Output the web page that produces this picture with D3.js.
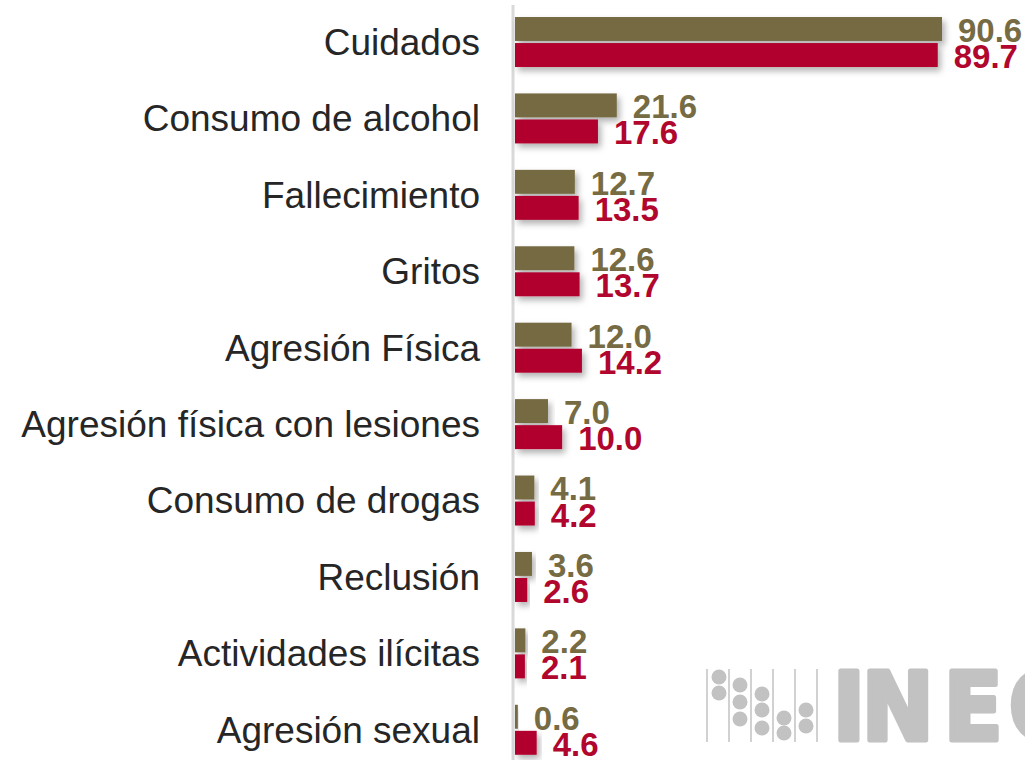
<!DOCTYPE html>
<html>
<head>
<meta charset="utf-8">
<script src="https://cdn.jsdelivr.net/npm/d3@7/dist/d3.min.js"></script>
<style>
  body { margin: 0; background: #fff; }
  svg { display: block; }
</style>
</head>
<body>
<script>
const categories = ['Cuidados', 'Consumo de alcohol', 'Fallecimiento', 'Gritos', 'Agresión Física',
  'Agresión física con lesiones', 'Consumo de drogas', 'Reclusión', 'Actividades ilícitas', 'Agresión sexual']
const seriesNames = ['olive', 'red']
const oliveValues = [90.6, 21.6, 12.7, 12.6, 12.0, 7.0, 4.1, 3.6, 2.2, 0.6]
const redValues = [89.7, 17.6, 13.5, 13.7, 14.2, 10.0, 4.2, 2.6, 2.1, 4.6]
const colors = ['#766b43', '#b1062d']

const w = 1025
const h = 760

const svg = d3.select('body').append('svg')
  .attr('width', w)
  .attr('height', h)

// soft shadow under bars
const defs = svg.append('defs')
const f = defs.append('filter').attr('id', 'shadow')
  .attr('x', '-10%').attr('y', '-30%').attr('width', '130%').attr('height', '180%')
f.append('feDropShadow')
  .attr('dx', 3).attr('dy', 4).attr('stdDeviation', 3)
  .attr('flood-color', '#000').attr('flood-opacity', 0.3)

const x = d3.scaleLinear().domain([0, 90.6]).range([515, 942])
const y = d3.scaleBand().domain(categories).range([3.8, 768])
const ySub = d3.scaleBand().domain(seriesNames).range([0, 50]).paddingInner(0.08)

// INEGI watermark (decoration)
const logo = svg.append('g').attr('fill', '#c2c2c2').attr('stroke', '#c2c2c2')
const lineXs = [707, 729, 751, 773, 795, 817]
lineXs.forEach(lx => {
  logo.append('line').attr('x1', lx).attr('x2', lx).attr('y1', 669).attr('y2', 742).attr('stroke-width', 1.5)
})
const dots = [[719, 677], [719, 693], [740, 685], [740, 702], [740, 719], [762, 694], [762, 710], [762, 728],
  [784, 718], [784, 733], [806, 710], [806, 726]]
dots.forEach(d => {
  logo.append('circle').attr('cx', d[0]).attr('cy', d[1]).attr('r', 7.5).attr('stroke', 'none')
})
logo.append('text')
  .attr('x', '833 862 944 1009 1090')
  .attr('y', 739.5)
  .attr('stroke-width', 5)
  .attr('stroke-linejoin', 'round')
  .attr('font-family', '"DejaVu Sans Condensed", "DejaVu Sans"')
  .attr('font-weight', 'bold')
  .attr('font-size', 95)
  .text('INEGI')

// axis line
svg.append('line')
  .attr('x1', 513).attr('x2', 513)
  .attr('y1', 5).attr('y2', h)
  .attr('stroke', '#d9d9d9')
  .attr('stroke-width', 3)

const rows = categories.map((c, i) => ({ cat: c, vals: [oliveValues[i], redValues[i]] }))

const g = svg.selectAll('g.row')
  .data(rows)
  .enter().append('g')
  .attr('class', 'row')
  .attr('transform', d => 'translate(0,' + (y(d.cat) + y.bandwidth() / 2 - 25) + ')')

g.selectAll('rect')
  .data(d => d.vals.map((v, j) => ({ v, s: seriesNames[j], c: colors[j] })))
  .enter().append('rect')
  .attr('x', x(0))
  .attr('y', d => ySub(d.s))
  .attr('width', d => Math.max(2, x(d.v) - x(0)))
  .attr('height', ySub.bandwidth())
  .attr('fill', d => d.c)
  .attr('filter', 'url(#shadow)')

g.selectAll('text.val')
  .data(d => d.vals.map((v, j) => ({ v, s: seriesNames[j], c: colors[j] })))
  .enter().append('text')
  .attr('class', 'val')
  .attr('x', d => Math.max(x(0) + 2, x(d.v)) + 16)
  .attr('y', d => ySub(d.s) + ySub.bandwidth() + 1)
  .attr('fill', d => d.c)
  .attr('font-family', '"Liberation Sans Narrow", "Arial Narrow", sans-serif')
  .attr('font-weight', 'bold')
  .attr('font-size', 33)
  .text(d => d.v.toFixed(1))

// category labels
svg.selectAll('text.cat')
  .data(categories)
  .enter().append('text')
  .attr('class', 'cat')
  .attr('x', 480)
  .attr('y', d => y(d) + y.bandwidth() / 2)
  .attr('dy', '0.35em')
  .attr('text-anchor', 'end')
  .attr('fill', '#262626')
  .attr('font-family', '"Liberation Sans", Arial, sans-serif')
  .attr('font-size', 37)
  .text(d => d)
</script>
</body>
</html>
